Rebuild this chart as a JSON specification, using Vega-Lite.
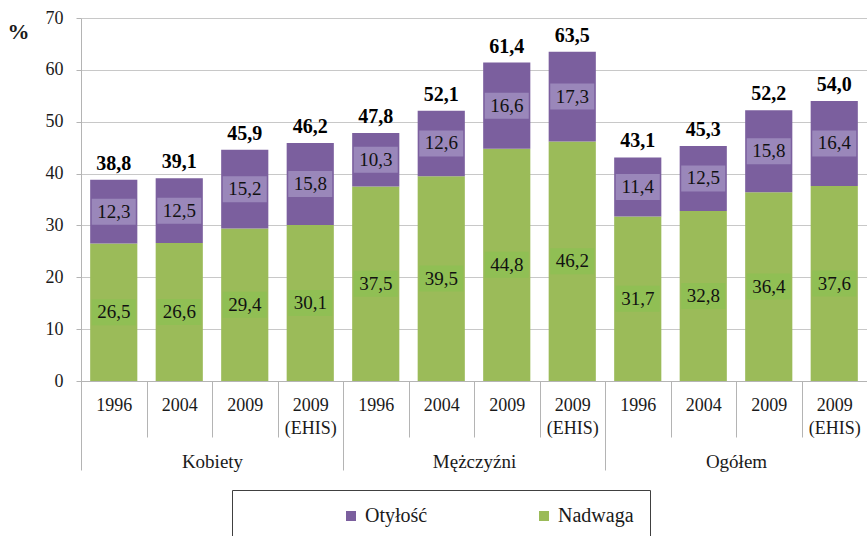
{
  "$schema": "https://vega.github.io/schema/vega-lite/v6.json",
  "width": 786,
  "height": 363,
  "autosize": "none",
  "padding": {"left": 81, "top": 18, "right": 0, "bottom": 155},
  "config": {
    "font": "Liberation Serif",
    "view": {"stroke": null},
    "text": {"font": "Liberation Serif"},
    "axis": {"labelFont": "Liberation Serif", "titleFont": "Liberation Serif"},
    "legend": {"labelFont": "Liberation Serif", "titleFont": "Liberation Serif"},
    "locale": {"number": {"decimal": ",", "thousands": " ", "grouping": [3], "currency": ["", " zł"]}}
  },
  "data": {
    "values": [
      {"group": "Kobiety", "key": "Kobiety 1996", "type": "Nadwaga", "value": 26.5, "total": 38.8},
      {"group": "Kobiety", "key": "Kobiety 1996", "type": "Otyłość", "value": 12.3, "total": 38.8},
      {"group": "Kobiety", "key": "Kobiety 2004", "type": "Nadwaga", "value": 26.6, "total": 39.1},
      {"group": "Kobiety", "key": "Kobiety 2004", "type": "Otyłość", "value": 12.5, "total": 39.1},
      {"group": "Kobiety", "key": "Kobiety 2009", "type": "Nadwaga", "value": 29.4, "total": 45.9},
      {"group": "Kobiety", "key": "Kobiety 2009", "type": "Otyłość", "value": 15.2, "total": 45.9},
      {"group": "Kobiety", "key": "Kobiety 2009 (EHIS)", "type": "Nadwaga", "value": 30.1, "total": 46.2},
      {"group": "Kobiety", "key": "Kobiety 2009 (EHIS)", "type": "Otyłość", "value": 15.8, "total": 46.2},
      {"group": "Mężczyźni", "key": "Mężczyźni 1996", "type": "Nadwaga", "value": 37.5, "total": 47.8},
      {"group": "Mężczyźni", "key": "Mężczyźni 1996", "type": "Otyłość", "value": 10.3, "total": 47.8},
      {"group": "Mężczyźni", "key": "Mężczyźni 2004", "type": "Nadwaga", "value": 39.5, "total": 52.1},
      {"group": "Mężczyźni", "key": "Mężczyźni 2004", "type": "Otyłość", "value": 12.6, "total": 52.1},
      {"group": "Mężczyźni", "key": "Mężczyźni 2009", "type": "Nadwaga", "value": 44.8, "total": 61.4},
      {"group": "Mężczyźni", "key": "Mężczyźni 2009", "type": "Otyłość", "value": 16.6, "total": 61.4},
      {"group": "Mężczyźni", "key": "Mężczyźni 2009 (EHIS)", "type": "Nadwaga", "value": 46.2, "total": 63.5},
      {"group": "Mężczyźni", "key": "Mężczyźni 2009 (EHIS)", "type": "Otyłość", "value": 17.3, "total": 63.5},
      {"group": "Ogółem", "key": "Ogółem 1996", "type": "Nadwaga", "value": 31.7, "total": 43.1},
      {"group": "Ogółem", "key": "Ogółem 1996", "type": "Otyłość", "value": 11.4, "total": 43.1},
      {"group": "Ogółem", "key": "Ogółem 2004", "type": "Nadwaga", "value": 32.8, "total": 45.3},
      {"group": "Ogółem", "key": "Ogółem 2004", "type": "Otyłość", "value": 12.5, "total": 45.3},
      {"group": "Ogółem", "key": "Ogółem 2009", "type": "Nadwaga", "value": 36.4, "total": 52.2},
      {"group": "Ogółem", "key": "Ogółem 2009", "type": "Otyłość", "value": 15.8, "total": 52.2},
      {"group": "Ogółem", "key": "Ogółem 2009 (EHIS)", "type": "Nadwaga", "value": 37.6, "total": 54.0},
      {"group": "Ogółem", "key": "Ogółem 2009 (EHIS)", "type": "Otyłość", "value": 16.4, "total": 54.0}
    ]
  },
  "layer": [
    {
      "transform": [
        {"stack": "value", "groupby": ["key"], "sort": [{"field": "type", "order": "ascending"}], "as": ["y0", "y1"]},
        {"calculate": "(datum.y0 + datum.y1) / 2", "as": "mid"}
      ],
      "encoding": {
        "x": {
          "field": "key",
          "type": "nominal",
          "sort": null,
          "scale": {"paddingInner": 0, "paddingOuter": 0},
          "axis": {
            "orient": "bottom",
            "title": null,
            "labelAngle": 0,
            "labelExpr": "split(slice(datum.label, indexof(datum.label, ' ') + 1), ' ')",
            "labelFont": "Liberation Serif",
            "labelFontSize": 18,
            "labelColor": "#1a1a1a",
            "labelBaseline": "top",
            "labelLineHeight": 23,
            "labelPadding": -41,
            "tickBand": "extent",
            "tickSize": 56,
            "tickColor": "#b4b4b4",
            "domainColor": "#b4b4b4",
            "grid": false
          }
        }
      },
      "layer": [
        {
          "mark": {"type": "bar", "width": {"band": 0.72}},
          "encoding": {
            "y": {
              "field": "y0",
              "type": "quantitative",
              "scale": {"domain": [0, 70]},
              "axis": {
                "title": "%",
                "titleAngle": 0,
                "titleX": -63,
                "titleY": 13,
                "titleAlign": "center",
                "titleBaseline": "middle",
                "titleFont": "Liberation Serif",
                "titleFontSize": 22,
                "titleFontWeight": "bold",
                "titleColor": "#1a1a1a",
                "values": [0, 10, 20, 30, 40, 50, 60, 70],
                "labelFont": "Liberation Serif",
                "labelFontSize": 18,
                "labelColor": "#1a1a1a",
                "labelPadding": 13,
                "tickSize": 5,
                "tickColor": "#b4b4b4",
                "domainColor": "#b4b4b4",
                "gridColor": "#c8c8c8"
              }
            },
            "y2": {"field": "y1"},
            "color": {
              "field": "type",
              "type": "nominal",
              "scale": {"domain": ["Otyłość", "Nadwaga"], "range": ["#7b5f9e", "#9bbb59"]},
              "legend": {
                "orient": "none",
                "legendX": 151,
                "legendY": 472,
                "direction": "horizontal",
                "columns": 2,
                "gridAlign": "all",
                "title": null,
                "padding": 16,
                "strokeColor": "#404040",
                "symbolType": "square",
                "symbolSize": 100,
                "symbolStrokeWidth": 0,
                "symbolOffset": 93,
                "columnPadding": -4,
                "labelFont": "Liberation Serif",
                "labelFontSize": 20,
                "labelColor": "#1a1a1a",
                "labelOffset": 4
              }
            }
          }
        },
        {
          "mark": {"type": "tick", "orient": "horizontal", "size": 44, "thickness": 26},
          "encoding": {
            "y": {"field": "mid", "type": "quantitative"},
            "color": {"condition": {"test": "datum.type === 'Otyłość'", "value": "#a898c6"}, "value": "#8cc152"}
          }
        },
        {
          "mark": {"type": "text", "font": "Liberation Serif", "fontSize": 19, "baseline": "middle", "color": "#111111"},
          "encoding": {
            "y": {"field": "mid", "type": "quantitative"},
            "text": {"field": "value", "type": "quantitative", "format": ".1f"}
          }
        },
        {
          "transform": [{"filter": "datum.type === 'Otyłość'"}],
          "mark": {"type": "text", "font": "Liberation Serif", "fontSize": 20, "fontWeight": "bold", "baseline": "bottom", "dy": -6, "color": "#000000"},
          "encoding": {
            "y": {"field": "y1", "type": "quantitative"},
            "text": {"field": "total", "type": "quantitative", "format": ".1f"}
          }
        }
      ]
    },
    {
      "mark": {"type": "text", "text": ""},
      "encoding": {
        "x": {
          "field": "group",
          "type": "nominal",
          "sort": null,
          "scale": {"paddingInner": 0, "paddingOuter": 0},
          "axis": {
            "orient": "bottom",
            "title": null,
            "labelAngle": 0,
            "labelFont": "Liberation Serif",
            "labelFontSize": 19,
            "labelColor": "#1a1a1a",
            "labelBaseline": "top",
            "labelPadding": -18,
            "tickBand": "extent",
            "tickSize": 89,
            "tickColor": "#b4b4b4",
            "domain": false,
            "grid": false
          }
        }
      }
    }
  ],
  "resolve": {"scale": {"x": "independent"}}
}
